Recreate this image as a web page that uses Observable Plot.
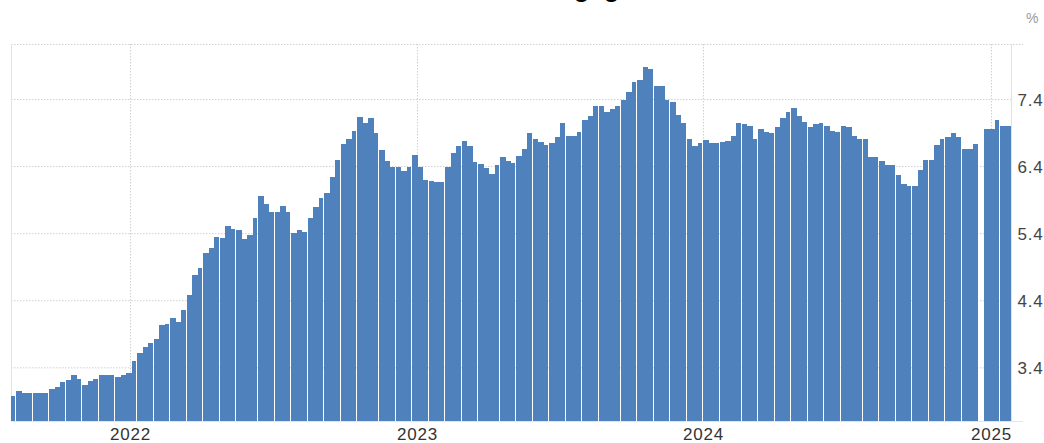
<!DOCTYPE html>
<html>
<head>
<meta charset="utf-8">
<script src="https://cdn.jsdelivr.net/npm/d3@7"></script>
<script src="https://cdn.jsdelivr.net/npm/@observablehq/plot@0.6"></script>
<style>
  html, body { margin: 0; padding: 0; background: #fff; }
  #wrap { position: relative; width: 1044px; height: 443px; overflow: hidden; }
  #title { position: absolute; left: 355px; top: -27px; font: bold 25.7px "Liberation Sans", Arial, sans-serif; line-height: 30px; color: #000; white-space: nowrap; }
  #unit { position: absolute; left: 1026px; top: 9px; font: 14px "Liberation Sans", Arial, sans-serif; line-height: 18px; color: #999; }
  #chart { position: absolute; left: 0; top: 0; }
</style>
</head>
<body>
<div id="wrap">
  <div id="chart"></div>
  <div id="title">MBA 30-Year Mortgage Rate</div>
  <div id="unit">%</div>
</div>
<script>
// Weekly series start (first bar) and values in percent; null = missing week
const startDate = "2021-08-02";
const rates = [
  2.98, 3.04, 3.02, 3.02, 3.02, 3.02, 3.02, 3.08, 3.11, 3.18,
  3.21, 3.29, 3.23, 3.13, 3.19, 3.23, 3.29, 3.29, 3.29, 3.25,
  3.29, 3.31, 3.50, 3.62, 3.70, 3.76, 3.82, 4.03, 4.05, 4.14,
  4.07, 4.26, 4.48, 4.78, 4.88, 5.11, 5.18, 5.35, 5.33, 5.50,
  5.46, 5.45, 5.31, 5.37, 5.63, 5.96, 5.83, 5.71, 5.71, 5.81,
  5.71, 5.41, 5.45, 5.42, 5.63, 5.79, 5.92, 6.00, 6.23, 6.49,
  6.73, 6.80, 6.93, 7.13, 7.04, 7.12, 6.89, 6.64, 6.47, 6.39,
  6.39, 6.32, 6.39, 6.57, 6.39, 6.20, 6.18, 6.17, 6.17, 6.38,
  6.60, 6.70, 6.78, 6.70, 6.46, 6.43, 6.37, 6.28, 6.41, 6.53,
  6.47, 6.45, 6.55, 6.66, 6.89, 6.80, 6.76, 6.72, 6.74, 6.83,
  7.04, 6.85, 6.85, 6.91, 7.08, 7.14, 7.29, 7.29, 7.20, 7.25,
  7.29, 7.38, 7.51, 7.65, 7.69, 7.87, 7.84, 7.59, 7.59, 7.38,
  7.35, 7.16, 7.04, 6.81, 6.70, 6.74, 6.79, 6.74, 6.74, 6.76,
  6.78, 6.85, 7.04, 7.02, 7.00, 6.81, 6.95, 6.91, 6.89, 6.99,
  7.12, 7.21, 7.27, 7.15, 7.06, 6.99, 7.02, 7.04, 7.00, 6.93,
  6.91, 7.00, 6.98, 6.85, 6.80, 6.80, 6.53, 6.53, 6.47, 6.41,
  6.41, 6.26, 6.13, 6.11, 6.11, 6.34, 6.49, 6.49, 6.71, 6.80,
  6.83, 6.89, 6.83, 6.66, 6.65, 6.73, null, 6.95, 6.96, 7.08,
  7.00, 7.00
];
const yTicks = [3.4, 4.4, 5.4, 6.4, 7.4];
const yearTicks = ["2022-01-01", "2023-01-01", "2024-01-01", "2025-01-01"];
const yDomain = [2.6, 8.22];

const d0 = new Date(startDate + "T00:00:00Z");
// the original renderer leaves a thin white seam roughly every third column
const seams = new Set();
for (let n = 0; Math.floor(n * 3.143) < rates.length; n++) seams.add(Math.floor(n * 3.143));
const data = rates.map((v, i) => ({
  date: d3.utcDay.offset(d0, 7 * i),
  end: d3.utcDay.offset(d0, 7 * (i + 1)),
  value: v,
  seam: seams.has(i)
})).filter(d => d.value != null);
const dEnd = d3.utcDay.offset(d0, 7 * rates.length);
const years = yearTicks.map(s => new Date(s + "T00:00:00Z"));

const barStyle = { x1: "date", x2: "end", y: "value", fill: "#4f81bd", clip: true, shapeRendering: "crispEdges" };

const chart = Plot.plot({
  width: 1044,
  height: 443,
  marginLeft: 11,
  marginRight: 33,
  marginTop: 44,
  marginBottom: 22,
  style: { fontFamily: "'Liberation Sans', Arial, sans-serif", fontSize: "17px", letterSpacing: "0.8px", background: "transparent", overflow: "visible" },
  x: { type: "utc", domain: [d0, dEnd], round: true },
  y: { domain: yDomain },
  marks: [
    Plot.ruleY(yTicks, { stroke: "#d0d0d0", strokeDasharray: "1.5,1.5" }),
    Plot.ruleY([yDomain[1]], { stroke: "#d0d0d0", strokeDasharray: "1.5,1.5", insetRight: -12 }),
    Plot.ruleX(years, { stroke: "#d0d0d0", strokeDasharray: "1.5,1.5" }),
    Plot.ruleX([d0], { stroke: "#e2e2e2" }),
    Plot.ruleX([dEnd], { stroke: "#e2e2e2" }),
    Plot.rectY(data.filter(d => !d.seam), { ...barStyle }),
    Plot.rectY(data.filter(d => d.seam), { ...barStyle, insetRight: 1 }),
    Plot.ruleY([yDomain[0]], { stroke: "#e6e6e6", insetRight: -12 }),
    Plot.axisY(yTicks, { anchor: "right", tickSize: 0, tickPadding: 6, tickFormat: d => d.toFixed(1), fill: "#444", dy: 1, label: null }),
    Plot.axisX(years, { anchor: "bottom", tickSize: 0, tickPadding: 6, tickFormat: d3.utcFormat("%Y"), fill: "#333", label: null })
  ]
});
document.getElementById("chart").appendChild(chart);
</script>
</body>
</html>
